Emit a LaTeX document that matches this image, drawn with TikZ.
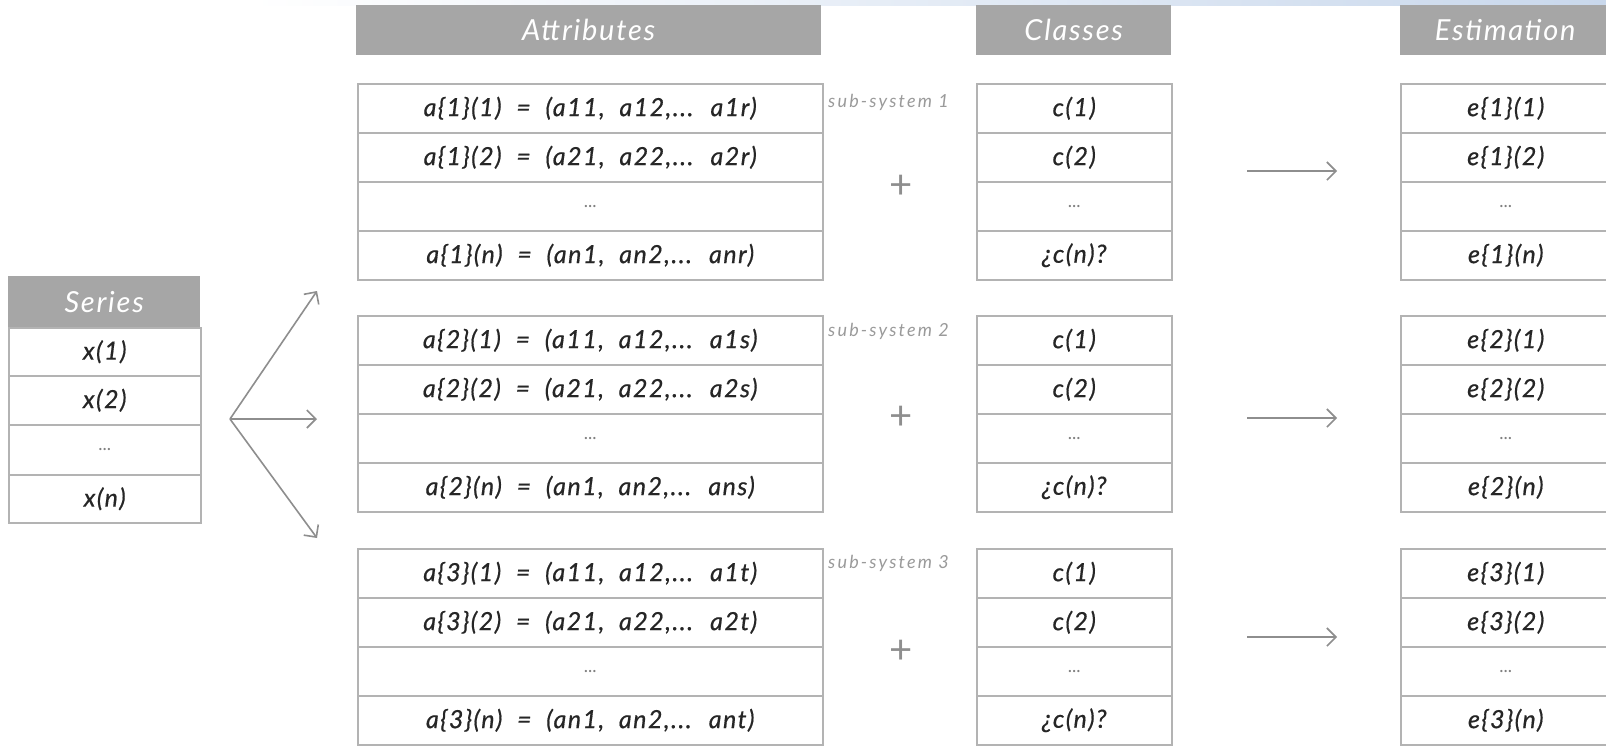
\documentclass[tikz,border=0pt]{standalone}
\usepackage{fontspec}
\setmainfont{Lato}
\usetikzlibrary{arrows.meta}
\definecolor{hdrgray}{HTML}{A6A6A6}
\definecolor{bordergray}{HTML}{B3B3B3}
\definecolor{txtgray}{HTML}{262626}
\definecolor{dotgray}{HTML}{808080}
\definecolor{arrowgray}{HTML}{8E8E8E}
\definecolor{subgray}{HTML}{9A9A9A}
\definecolor{swoosh}{HTML}{C9D8EC}
\newcommand{\celltext}{\fontsize{25}{25}\selectfont\itshape\addfontfeature{LetterSpace=6,FakeBold=0.6}}
\newcommand{\hdrtext}{\fontsize{29}{29}\selectfont\itshape\addfontfeature{LetterSpace=6}}
\tikzset{
  cellbox/.style={draw=bordergray, line width=1.5pt, fill=white, inner sep=0pt,
    anchor=north west, text=txtgray, font=\celltext, minimum height=49pt},
  hdrbox/.style={fill=hdrgray, inner sep=0pt, anchor=north west, text=white,
    font=\hdrtext, minimum height=50pt},
  attrcol/.style={minimum width=465pt},
  classcol/.style={minimum width=195pt},
  estcol/.style={minimum width=210pt},
  sercol/.style={minimum width=192pt},
  dotstext/.style={text=dotgray, font=\fontsize{18}{18}\selectfont},
  subsys/.style={text=subgray, font=\fontsize{18}{18}\selectfont\itshape\addfontfeature{LetterSpace=12}, anchor=west, inner sep=0pt},
  plussign/.style={text=arrowgray, font=\fontsize{40}{40}\selectfont, inner sep=0pt},
  flow/.style={draw=arrowgray, line width=1.6pt, -{Straight Barb[length=9pt,width=18pt,line width=1.6pt]}}
}
\begin{document}
\begin{tikzpicture}[x=1pt,y=-1pt]
\useasboundingbox (0,0) rectangle (1606,745);
\clip (0,0) rectangle (1606,745);
\fill[white] (0,0) rectangle (1606,745);
\shade[left color=white, right color=swoosh] (250,0) rectangle (1606,5);

% headers
\node[hdrbox, attrcol] (hattr) at (356,5) {Attributes};
\node[hdrbox, classcol] (hclass) at (976,5) {Classes};
\node[hdrbox, estcol] (hest) at (1400,5) {Estimation};

% series
\node[hdrbox, sercol, minimum height=51pt] (hser) at (8,276) {Series};
\node[cellbox, sercol, minimum height=48pt] (s1) at (8,327) {x(1)};
\node[cellbox, sercol] (s2) at (8,375) {x(2)};
\node[cellbox, sercol, minimum height=50pt, dotstext] (s3) at (8,424) {...};
\node[cellbox, sercol, minimum height=48pt] (s4) at (8,474) {x(n)};

% blocks
\foreach \k/\T/\v/\ys/\ya/\yp in {1/83/r/102/171/187, 2/315/s/331/418/418, 3/548/t/563/637/652} {
  \node[cellbox, attrcol] (a\k-1) at (357,\T) {a\{\k\}(1) \ = \ (a11, \ a12,... \ a1\v)};
  \node[cellbox, attrcol] (a\k-2) at (357,{\T+49}) {a\{\k\}(2) \ = \ (a21, \ a22,... \ a2\v)};
  \node[cellbox, attrcol, dotstext] (a\k-3) at (357,{\T+98}) {...};
  \node[cellbox, attrcol] (a\k-4) at (357,{\T+147}) {a\{\k\}(n) \ = \ (an1, \ an2,... \ an\v)};
  \node[subsys] (sub\k) at (828,\ys) {sub-system \k};
  \node[plussign] (plus\k) at (901,\yp) {+};
  \node[cellbox, classcol] (c\k-1) at (976,\T) {c(1)};
  \node[cellbox, classcol] (c\k-2) at (976,{\T+49}) {c(2)};
  \node[cellbox, classcol, dotstext] (c\k-3) at (976,{\T+98}) {...};
  \node[cellbox, classcol] (c\k-4) at (976,{\T+147}) {¿c(n)?};
  \node[cellbox, estcol] (e\k-1) at (1400,\T) {e\{\k\}(1)};
  \node[cellbox, estcol] (e\k-2) at (1400,{\T+49}) {e\{\k\}(2)};
  \node[cellbox, estcol, dotstext] (e\k-3) at (1400,{\T+98}) {...};
  \node[cellbox, estcol] (e\k-4) at (1400,{\T+147}) {e\{\k\}(n)};
  \coordinate (rs\k) at (1247,\ya);
  \coordinate (re\k) at (1337,\ya);
  \draw[flow] (rs\k) -- (re\k);
}

% fork from series
\coordinate (fork) at (230,419);
\coordinate (tip1) at (317,291);
\coordinate (tip2) at (317,419);
\coordinate (tip3) at (317,538);
\draw[flow] (fork) -- (tip1);
\draw[flow] (fork) -- (tip2);
\draw[flow] (fork) -- (tip3);
\end{tikzpicture}
\end{document}
